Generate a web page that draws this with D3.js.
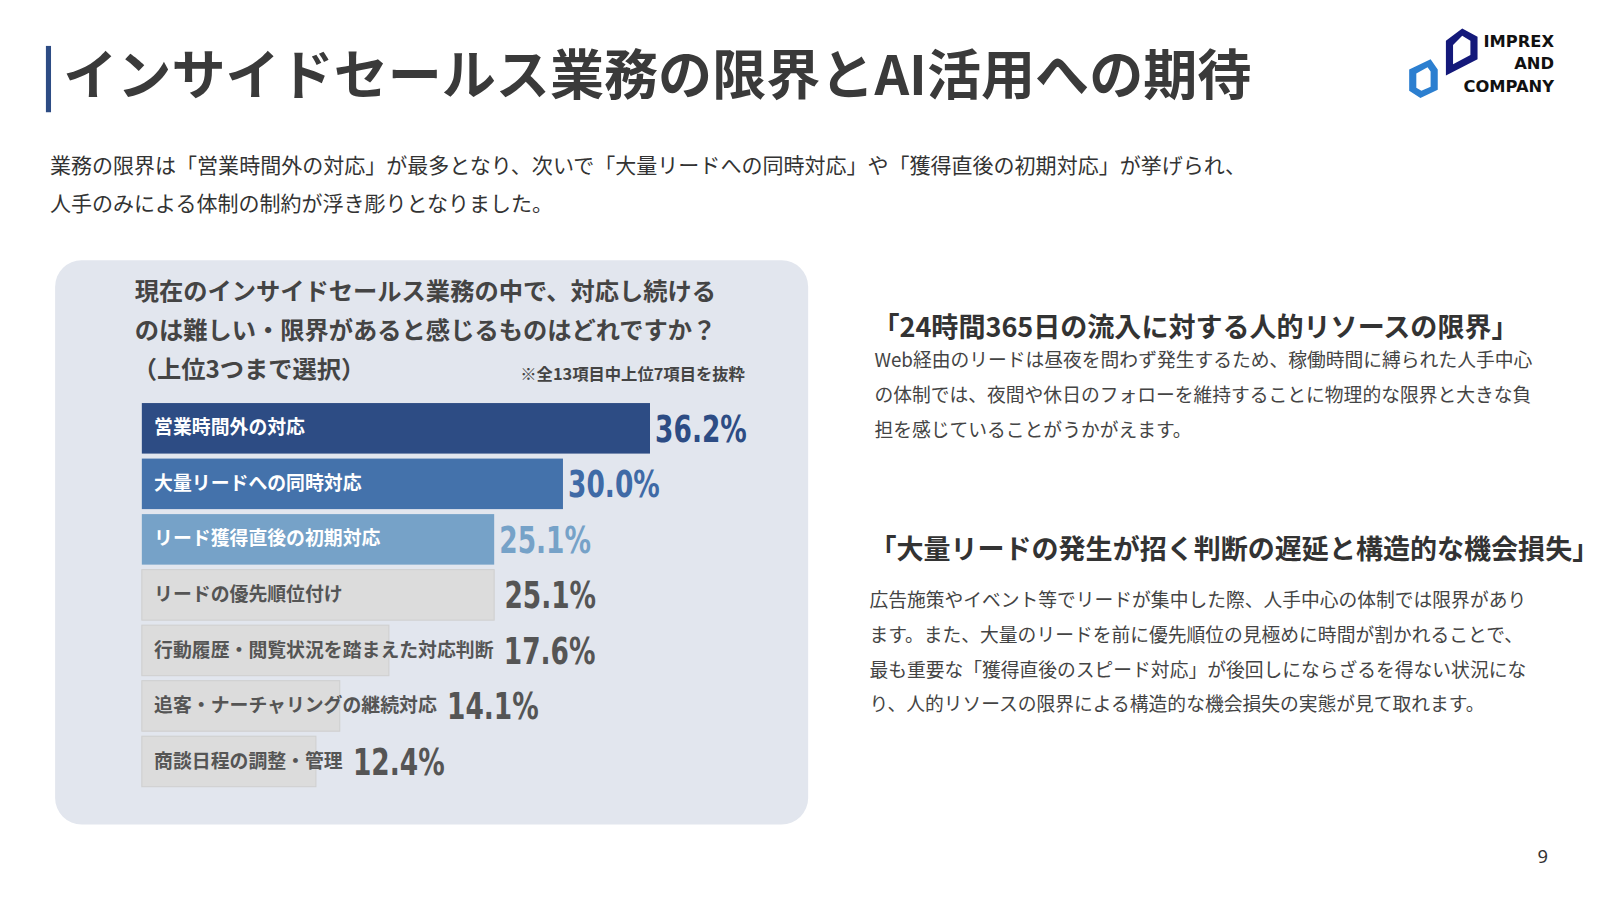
<!DOCTYPE html>
<html><head><meta charset="utf-8">
<script src="https://cdn.jsdelivr.net/npm/d3@7"></script>
<style>
body{margin:0;background:#fff;font-family:"Noto Sans CJK JP","Noto Sans",sans-serif;}
</style></head>
<body><div id="chart"></div>
<script>
const categories = ["営業時間外の対応","大量リードへの同時対応","リード獲得直後の初期対応","リードの優先順位付け","行動履歴・閲覧状況を踏まえた対応判断","追客・ナーチャリングの継続対応","商談日程の調整・管理"]
const values = [36.2, 30.0, 25.1, 25.1, 17.6, 14.1, 12.4]
const barColors = ["#2d4c84","#4472ab","#76a2c8","#dcdcdc","#dcdcdc","#dcdcdc","#dcdcdc"]
const valueColors = ["#2d4c84","#3f6aa6","#76a2c8","#555","#555","#555","#555"]
const textColors = ["#fff","#fff","#fff","#555","#555","#555","#555"]

const root = d3.select("#chart").append("svg").attr("width",1600).attr("height",900)
const svg = root.append("g").attr("transform","scale(1.0204)")
const J = "Noto Sans CJK JP"

// header
svg.append("rect").attr("x",45).attr("y",45).attr("width",5).attr("height",65).attr("fill","#2d4c84")
svg.append("text").attr("x",62).attr("y",93).attr("font-family",J).attr("font-weight",700)
  .attr("font-size",53).attr("fill","#3a3a3a").text("インサイドセールス業務の限界とAI活用への期待")

// logo
const logo = svg.append("g")
logo.append("path").attr("d","M1381,68 L1402,58 L1409,68 L1409,88 L1392,96 L1381,89 Z M1388,72 L1388,86 L1393,89 L1402,85 L1402,70 L1399,66 Z")
  .attr("fill","#2c7fd0").attr("fill-rule","evenodd")
logo.append("path").attr("d","M1417,40 L1433,28 L1448,36 L1448,58 L1417,74 Z M1424,44 L1424,63 L1441,54 L1441,40 L1433,35 Z")
  .attr("fill","#14197a").attr("fill-rule","evenodd")
const lt = logo.append("text").attr("font-family","DejaVu Sans").attr("font-weight",700).attr("font-size",16).attr("fill","#111").attr("text-anchor","end")
lt.append("tspan").attr("x",1523).attr("y",46).text("IMPREX")
lt.append("tspan").attr("x",1523).attr("y",68).text("AND")
lt.append("tspan").attr("x",1523).attr("y",90).text("COMPANY")

// lead
const lead = ["業務の限界は「営業時間外の対応」が最多となり、次いで「大量リードへの同時対応」や「獲得直後の初期対応」が挙げられ、","人手のみによる体制の制約が浮き彫りとなりました。"]
lead.forEach((s,i)=>svg.append("text").attr("x",49).attr("y",170+i*37).attr("font-family",J).attr("font-size",20.6).attr("fill","#333").text(s))

// panel
svg.append("rect").attr("x",54).attr("y",255).attr("width",738).attr("height",553).attr("rx",26).attr("fill","#e2e6ee")
const q = ["現在のインサイドセールス業務の中で、対応し続ける","のは難しい・限界があると感じるものはどれですか？","（上位3つまで選択）"]
q.forEach((s,i)=>svg.append("text").attr("x",i==2?130:132).attr("y",294+i*38).attr("font-family",J).attr("font-weight",700).attr("font-size",23.8).attr("fill","#444").text(s))
svg.append("text").attr("x",730).attr("y",372).attr("text-anchor","end").attr("font-family",J).attr("font-weight",700).attr("font-size",16).attr("fill","#444").text("※全13項目中上位7項目を抜粋")

const x = d3.scaleLinear().domain([0,36.2]).range([139,637])
const y = d3.scaleBand().domain(categories).range([395,771]).paddingInner(0.09)
const g = svg.append("g")
const rows = g.selectAll("g").data(categories).join("g")
rows.append("rect").attr("x",x(0)).attr("y",d=>y(d)).attr("height",y.bandwidth())
  .attr("width",(d,i)=>x(values[i])-x(0)).attr("fill",(d,i)=>barColors[i])
  .attr("stroke",(d,i)=>i>2?"#cfcfcf":"none")
const labels = rows.append("text").attr("x",151).attr("y",d=>y(d)+y.bandwidth()/2+6)
  .attr("font-family",J).attr("font-weight",700).attr("font-size",18.5)
  .attr("fill",(d,i)=>textColors[i]).text(d=>d)
// condensed numbers: squeeze horizontally
rows.append("text")
  .attr("transform",function(d,i){
    const tw = labels.nodes()[i].getComputedTextLength()
    const px = Math.max(x(values[i]), 151+tw) + (i<3?5:10)
    return `translate(${px},${y(d)+y.bandwidth()/2+13}) scale(0.72,1)`
  })
  .attr("font-family","DejaVu Sans, sans-serif")
  .attr("font-weight",700).attr("font-size",36)
  .attr("fill",(d,i)=>valueColors[i]).text((d,i)=>values[i].toFixed(1)+"%")

// right column
svg.append("text").attr("x",855).attr("y",330).attr("font-family",J).attr("font-weight",700).attr("font-size",26.5).attr("fill","#333").text("「24時間365日の流入に対する人的リソースの限界」")
const p1 = ["Web経由のリードは昼夜を問わず発生するため、稼働時間に縛られた人手中心","の体制では、夜間や休日のフォローを維持することに物理的な限界と大きな負","担を感じていることがうかがえます。"]
p1.forEach((s,i)=>svg.append("text").attr("x",857).attr("y",360+i*34).attr("font-family",J).attr("font-size",18.4).attr("fill","#444").text(s))
svg.append("text").attr("x",852).attr("y",548).attr("font-family",J).attr("font-weight",700).attr("font-size",26.5).attr("fill","#333").text("「大量リードの発生が招く判断の遅延と構造的な機会損失」")
const p2 = ["広告施策やイベント等でリードが集中した際、人手中心の体制では限界があり","ます。また、大量のリードを前に優先順位の見極めに時間が割かれることで、","最も重要な「獲得直後のスピード対応」が後回しにならざるを得ない状況にな","り、人的リソースの限界による構造的な機会損失の実態が見て取れます。"]
p2.forEach((s,i)=>svg.append("text").attr("x",852).attr("y",595+i*34).attr("font-family",J).attr("font-size",18.4).attr("fill","#444").text(s))

svg.append("text").attr("x",1517).attr("y",846).attr("text-anchor","end").attr("font-family","Noto Sans").attr("font-size",18).attr("fill","#333").text("9")
</script></body></html>
